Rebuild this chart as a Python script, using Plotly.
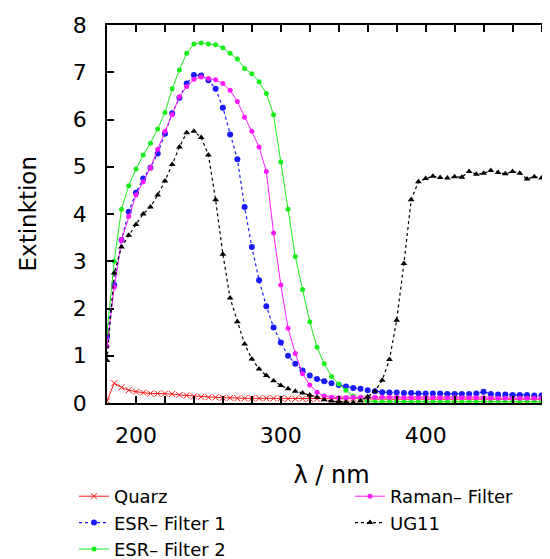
import plotly.graph_objects as go

# wavelength grid in nm
wavelength = [180, 185, 190, 195, 200, 205, 210, 215, 220, 225, 230, 235, 240, 245, 250,
              255, 260, 265, 270, 275, 280, 285, 290, 295, 300, 305, 310, 315, 320, 325,
              330, 335, 340, 345, 350, 355, 360, 365, 370, 375, 380, 385, 390, 395, 400,
              405, 410, 415, 420, 425, 430, 435, 440, 445, 450, 455, 460, 465, 470, 475,
              480, 485, 490]

quarz = [0.05, 0.42, 0.33, 0.27, 0.24, 0.22, 0.20, 0.20, 0.20, 0.19, 0.17, 0.16, 0.14, 0.13, 0.12,
         0.12, 0.11, 0.11, 0.10, 0.10, 0.10, 0.10, 0.10, 0.10, 0.10, 0.09, 0.09, 0.09, 0.09, 0.09,
         0.09, 0.09, 0.09, 0.09, 0.09, 0.09, 0.09, 0.08, 0.08, 0.08, 0.08, 0.08, 0.08, 0.08, 0.08,
         0.08, 0.08, 0.08, 0.08, 0.08, 0.08, 0.08, 0.08, 0.08, 0.08, 0.08, 0.08, 0.08, 0.08, 0.08,
         0.08, 0.08, 0.08]

esr1 = [1.40, 2.50, 3.45, 4.05, 4.45, 4.75, 4.98, 5.28, 5.70, 6.13, 6.46, 6.76, 6.94, 6.93, 6.83,
        6.65, 6.25, 5.68, 5.16, 4.15, 3.30, 2.60, 2.05, 1.60, 1.28, 1.00, 0.83, 0.69, 0.58, 0.51,
        0.46, 0.42, 0.38, 0.35, 0.32, 0.30, 0.27, 0.25, 0.23, 0.22, 0.22, 0.21, 0.21, 0.20, 0.20,
        0.20, 0.20, 0.19, 0.19, 0.19, 0.19, 0.20, 0.24, 0.19, 0.18, 0.18, 0.17, 0.17, 0.17, 0.16,
        0.16, 0.15, 0.15]

esr2 = [1.50, 3.00, 4.10, 4.60, 4.95, 5.25, 5.50, 5.80, 6.15, 6.65, 7.05, 7.40, 7.60, 7.62, 7.60,
        7.58, 7.52, 7.40, 7.28, 7.08, 6.97, 6.80, 6.55, 6.10, 5.10, 4.10, 3.10, 2.40, 1.72, 1.18,
        0.83, 0.56, 0.40, 0.27, 0.15, 0.08, 0.04, 0.03, 0.03, 0.03, 0.03, 0.03, 0.03, 0.03, 0.03,
        0.03, 0.03, 0.03, 0.03, 0.03, 0.03, 0.03, 0.03, 0.03, 0.03, 0.03, 0.03, 0.03, 0.03, 0.03,
        0.03, 0.03, 0.03]

raman = [1.20, 2.45, 3.45, 3.95, 4.40, 4.68, 4.98, 5.37, 5.75, 6.10, 6.48, 6.70, 6.85, 6.90, 6.87,
         6.84, 6.76, 6.62, 6.38, 6.05, 5.75, 5.42, 4.90, 3.60, 2.50, 1.58, 1.05, 0.62, 0.38, 0.23,
         0.15, 0.12, 0.11, 0.11, 0.12, 0.12, 0.12, 0.12, 0.12, 0.12, 0.12, 0.11, 0.11, 0.11, 0.11,
         0.11, 0.11, 0.11, 0.11, 0.11, 0.11, 0.11, 0.11, 0.10, 0.10, 0.10, 0.10, 0.10, 0.10, 0.10,
         0.10, 0.10, 0.10]

ug11 = [0.90, 2.75, 3.30, 3.55, 3.78, 4.00, 4.15, 4.40, 4.70, 5.05, 5.42, 5.72, 5.75, 5.62, 5.25,
        4.30, 3.15, 2.22, 1.72, 1.25, 0.93, 0.72, 0.58, 0.47, 0.37, 0.30, 0.25, 0.21, 0.17, 0.12,
        0.07, 0.04, 0.03, 0.02, 0.01, 0.04, 0.13, 0.25, 0.48, 0.92, 1.75, 2.95, 4.30, 4.68, 4.75,
        4.80, 4.77, 4.76, 4.79, 4.78, 4.90, 4.84, 4.86, 4.92, 4.88, 4.85, 4.90, 4.86, 4.74, 4.79,
        4.76, 4.92, 4.90]

FONT = "DejaVu Sans"

fig = go.Figure()

fig.add_trace(go.Scatter(x=wavelength, y=quarz, name="Quarz", mode="lines+markers",
                         line=dict(color="#ff1a1a", width=1),
                         marker=dict(symbol="x-thin", size=6, line=dict(color="#ff1a1a", width=1))))
fig.add_trace(go.Scatter(x=wavelength, y=esr1, name="ESR\u2013 Filter 1", mode="lines+markers",
                         line=dict(color="#1a1aff", width=1.2, dash="dot"),
                         marker=dict(symbol="circle", size=6, color="#1a1aff")))
fig.add_trace(go.Scatter(x=wavelength, y=esr2, name="ESR\u2013 Filter 2", mode="lines+markers",
                         line=dict(color="#1aee1a", width=1),
                         marker=dict(symbol="circle", size=5, color="#1aee1a"),
                         legend="legend"))
fig.add_trace(go.Scatter(x=wavelength, y=raman, name="Raman\u2013 Filter", mode="lines+markers",
                         line=dict(color="#ff1aff", width=1),
                         marker=dict(symbol="circle", size=5, color="#ff1aff"),
                         legend="legend2"))
fig.add_trace(go.Scatter(x=wavelength, y=ug11, name="UG11", mode="lines+markers",
                         line=dict(color="#000000", width=1.2, dash="dot"),
                         marker=dict(symbol="triangle-up", size=6, color="#000000"),
                         legend="legend2"))

# page has an 8px body margin, so the figure is laid out 8px up/left of the target positions
W, H = 550, 559
ML, MT, PLOT_W = 99, 17, 449
legend_style = dict(font=dict(family=FONT, size=18, color="#000000"),
                    bgcolor="rgba(0,0,0,0)", borderwidth=0,
                    xref="container", yref="container", xanchor="left", yanchor="top",
                    tracegroupgap=0, itemwidth=30)

fig.update_layout(
    width=W, height=H,
    margin=dict(l=ML, r=W - ML - PLOT_W, t=MT, b=164, autoexpand=False),
    plot_bgcolor="white", paper_bgcolor="white",
    font=dict(family=FONT, color="#000000"),
    legend=dict(x=66 / W, y=1 - 470 / H, **legend_style),
    legend2=dict(x=342 / W, y=1 - 470 / H, **legend_style),
    showlegend=True,
)

# y axis title as a rotated annotation left of the tick labels
fig.add_annotation(text="Extinktion", textangle=-90, showarrow=False,
                   xref="paper", yref="paper", x=(19.5 - ML) / PLOT_W, y=0.5,
                   xanchor="center", yanchor="middle",
                   font=dict(family=FONT, size=23, color="#000000"))

fig.update_xaxes(
    range=[180, 490], showgrid=False, zeroline=False, automargin=True,
    showline=True, linecolor="black", linewidth=1.5, mirror="ticks",
    ticks="inside", ticklen=7, tickcolor="black", tickwidth=1.5,
    tickvals=[200, 300, 400], ticktext=["200", "300", "400"], tickangle=0,
    tickfont=dict(family=FONT, size=22), ticklabelstandoff=12,
    minor=dict(dtick=20, tick0=180, ticks="inside", ticklen=7, tickcolor="black", tickwidth=1.5),
    title=dict(text="\u03bb / nm", font=dict(family=FONT, size=24), standoff=19),
)
fig.update_yaxes(
    range=[0, 8], showgrid=False, zeroline=False, automargin=True,
    showline=True, linecolor="black", linewidth=1.5, mirror="ticks",
    ticks="inside", ticklen=7, tickcolor="black", tickwidth=1.5,
    dtick=1, tick0=0,
    tickfont=dict(family=FONT, size=22), ticklabelstandoff=14,
)

fig.write_html("out.html")
